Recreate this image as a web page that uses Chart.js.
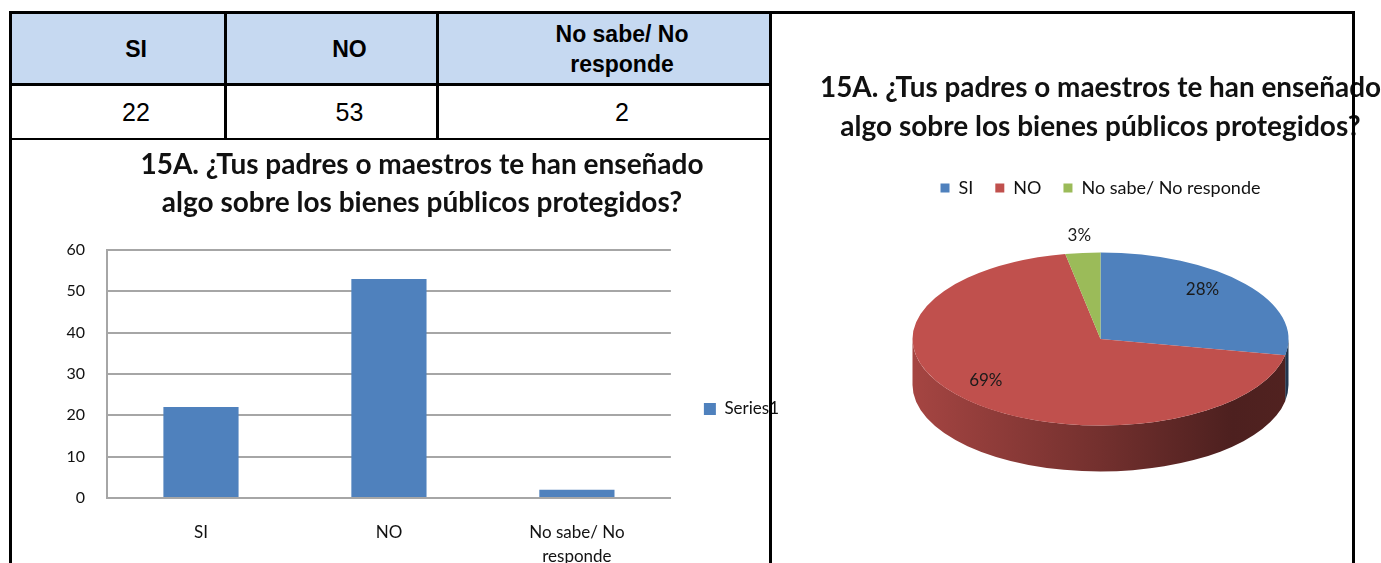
<!DOCTYPE html>
<html lang="es">
<head>
<meta charset="utf-8">
<title>15A. Bienes públicos protegidos</title>
<script src="https://cdn.jsdelivr.net/npm/chart.js@4.4.1/dist/chart.umd.min.js"></script>
<style>
    html, body {
        margin: 0;
        padding: 0;
        background: #fff;
    }
    body {
        position: relative;
        width: 1381px;
        height: 563px;
        overflow: hidden;
    }
    .linea {
        position: absolute;
        background: #000;
        z-index: 5;
    }
    .celda {
        position: absolute;
        box-sizing: border-box;
        padding-left: 36px;
        display: flex;
        align-items: center;
        justify-content: center;
        text-align: center;
        font-family: "Liberation Sans", Arial, sans-serif;
        color: #000;
    }
    .cabecera {
        background: #c6d9f1;
        font-weight: bold;
        font-size: 23px;
        line-height: 30px;
    }
    .valor {
        font-size: 25px;
    }
    canvas {
        position: absolute;
    }
</style>
</head>
<body>

<div id="tabla"></div>

<canvas id="graficoBarras" width="870" height="536" style="left:12px; top:141px;"></canvas>
<canvas id="graficoPastel" width="561" height="548" style="left:820px; top:15px;"></canvas>

<!-- bordes de la tabla del documento -->
<div class="linea" style="left:9px; top:11px; width:1346px; height:3px;"></div>
<div class="linea" style="left:9px; top:11px; width:3px; height:552px;"></div>
<div class="linea" style="left:224px; top:11px; width:3px; height:128px;"></div>
<div class="linea" style="left:436px; top:11px; width:3px; height:128px;"></div>
<div class="linea" style="left:769px; top:11px; width:3px; height:552px;"></div>
<div class="linea" style="left:1352px; top:11px; width:3px; height:552px;"></div>
<div class="linea" style="left:9px; top:83px; width:763px; height:3px;"></div>
<div class="linea" style="left:12px; top:138px; width:760px; height:2px;"></div>

<script>
// Datos de la pregunta 15A
const categorias = ['SI', 'NO', 'No sabe/ No responde'];
const etiquetasEjeX = ['SI', 'NO', ['No sabe/ No', 'responde']];
const respuestas = [22, 53, 2];
const porcentajes = [28, 69, 3];
const ticksY = [0, 10, 20, 30, 40, 50, 60];
const tituloPregunta = [
    '15A. ¿Tus padres o maestros te han enseñado',
    'algo sobre los bienes públicos protegidos?'
];

const AZUL = '#4f81bd';
const ROJO = '#c0504d';
const VERDE = '#9bbb59';
const FUENTE = 'Lato, "Open Sans", sans-serif';

// Tabla de frecuencias: cabecera y fila de valores
function construirTabla() {
    const tabla = document.getElementById('tabla');
    const columnas = [
        { left: 12, width: 212 },
        { left: 227, width: 209 },
        { left: 439, width: 330 }
    ];
    columnas.forEach((col, i) => {
        const cab = document.createElement('div');
        cab.className = 'celda cabecera';
        Object.assign(cab.style, {
            left: col.left + 'px', top: '14px',
            width: col.width + 'px', height: '69px'
        });
        cab.innerHTML = i === 2 ? 'No sabe/ No<br>responde' : categorias[i];
        tabla.appendChild(cab);

        const val = document.createElement('div');
        val.className = 'celda valor';
        Object.assign(val.style, {
            left: col.left + 'px', top: '86px',
            width: col.width + 'px', height: '52px'
        });
        val.textContent = respuestas[i];
        tabla.appendChild(val);
    });
}

// Grafico de barras con leyenda "Series1" a la derecha
function crearBarras() {
    const ctx = document.getElementById('graficoBarras').getContext('2d');
    return new Chart(ctx, {
        type: 'bar',
        data: {
            labels: etiquetasEjeX,
            datasets: [{
                label: 'Series1',
                data: respuestas,
                backgroundColor: AZUL,
                borderWidth: 0,
                barPercentage: 0.4,
                categoryPercentage: 1
            }]
        },
        options: {
            responsive: false,
            animation: false,
            events: [],
            layout: { padding: { left: 43, right: 93, top: 0, bottom: 0 } },
            plugins: {
                title: {
                    display: true,
                    text: tituloPregunta,
                    color: '#111',
                    font: { family: FUENTE, size: 28, weight: 'bold', lineHeight: 38 / 28 },
                    padding: { top: 5, bottom: 28 }
                },
                legend: {
                    position: 'right',
                    labels: {
                        boxWidth: 12,
                        boxHeight: 12,
                        padding: 33,
                        color: '#111',
                        font: { family: FUENTE, size: 17 }
                    }
                },
                tooltip: { enabled: false }
            },
            scales: {
                x: {
                    grid: { display: false, drawTicks: false },
                    border: { color: '#a6a6a6', width: 2 },
                    ticks: {
                        padding: 23,
                        maxRotation: 0,
                        color: '#111',
                        font: { family: FUENTE, size: 17, lineHeight: 24 / 17 }
                    },
                    afterFit: (scale) => { scale.height = 179; }
                },
                y: {
                    min: 0,
                    max: 60,
                    afterBuildTicks: (scale) => {
                        scale.ticks = ticksY.map(v => ({ value: v }));
                    },
                    grid: { color: '#a6a6a6', lineWidth: 2, drawTicks: false },
                    border: { color: '#a6a6a6', width: 2 },
                    ticks: {
                        padding: 22,
                        color: '#111',
                        font: { family: FUENTE, size: 16 }
                    },
                    afterFit: (scale) => { scale.width = 52; }
                }
            }
        }
    });
}

// Pastel con inclinacion y canto lateral, etiquetas de porcentaje
const INCLINACION = 0.46;
const PROFUNDIDAD = 46;
// las etiquetas interiores se corren un poco hacia arriba y a la izquierda, como en la perspectiva
const CORRIMIENTO_ETIQUETA = { x: -11, y: -6 };

function sombra(hex, f) {
    const n = parseInt(hex.slice(1), 16);
    const r = Math.round(((n >> 16) & 255) * f);
    const g = Math.round(((n >> 8) & 255) * f);
    const b = Math.round((n & 255) * f);
    return `rgb(${r},${g},${b})`;
}

const pastel3d = {
    id: 'pastel3d',
    beforeDatasetsDraw(chart) {
        const meta = chart.getDatasetMeta(0);
        if (!meta.data.length) return;
        const { x: cx, y: cy, outerRadius: rx } = meta.data[0].getProps(['x', 'y', 'outerRadius']);
        const ry = rx * INCLINACION;
        const ctx = chart.ctx;
        const colores = chart.data.datasets[0].backgroundColor;

        // canto frontal (mitad inferior de la elipse)
        meta.data.forEach((arc, i) => {
            const { startAngle, endAngle } = arc.getProps(['startAngle', 'endAngle']);
            [0, 2 * Math.PI].forEach(base => {
                const a0 = Math.max(startAngle, base);
                const a1 = Math.min(endAngle, base + Math.PI);
                if (a1 <= a0) return;
                const grad = ctx.createLinearGradient(cx - rx, 0, cx + rx, 0);
                grad.addColorStop(0, sombra(colores[i], 0.86));
                grad.addColorStop(0.5, sombra(colores[i], 0.6));
                grad.addColorStop(0.85, sombra(colores[i], 0.4));
                grad.addColorStop(1, sombra(colores[i], 0.42));
                ctx.save();
                ctx.beginPath();
                ctx.ellipse(cx, cy, rx, ry, 0, a0, a1);
                ctx.ellipse(cx, cy + PROFUNDIDAD, rx, ry, 0, a1, a0, true);
                ctx.closePath();
                ctx.fillStyle = grad;
                ctx.fill();
                ctx.restore();
            });
        });

        // la cara superior se aplana verticalmente alrededor del centro
        ctx.save();
        ctx.translate(cx, cy);
        ctx.scale(1, INCLINACION);
        ctx.translate(-cx, -cy);
    },
    afterDatasetsDraw(chart) {
        const ctx = chart.ctx;
        ctx.restore();

        const meta = chart.getDatasetMeta(0);
        const valores = chart.data.datasets[0].data;
        ctx.save();
        ctx.font = `17px ${FUENTE}`;
        ctx.fillStyle = '#1a1a1a';
        ctx.textAlign = 'center';
        ctx.textBaseline = 'middle';
        meta.data.forEach((arc, i) => {
            const { x: cx, y: cy, outerRadius: rx, startAngle, endAngle } =
                arc.getProps(['x', 'y', 'outerRadius', 'startAngle', 'endAngle']);
            const ry = rx * INCLINACION;
            const medio = (startAngle + endAngle) / 2;
            const fuera = valores[i] < 5;
            const f = fuera ? 1.2 : 0.78;
            const dx = fuera ? 0 : CORRIMIENTO_ETIQUETA.x;
            const dy = fuera ? 0 : CORRIMIENTO_ETIQUETA.y;
            ctx.fillText(valores[i] + '%',
                cx + Math.cos(medio) * rx * f + dx,
                cy + Math.sin(medio) * ry * f + dy);
        });
        ctx.restore();
    }
};

function crearPastel() {
    const ctx = document.getElementById('graficoPastel').getContext('2d');
    return new Chart(ctx, {
        type: 'pie',
        data: {
            labels: categorias,
            datasets: [{
                data: porcentajes,
                backgroundColor: [AZUL, ROJO, VERDE],
                borderWidth: 0
            }]
        },
        options: {
            responsive: false,
            animation: false,
            events: [],
            radius: 188,
            layout: { padding: { left: 0, right: 0, top: 0, bottom: 92 } },
            plugins: {
                title: {
                    display: true,
                    text: tituloPregunta,
                    color: '#111',
                    font: { family: FUENTE, size: 28, weight: 'bold', lineHeight: 39 / 28 },
                    padding: { top: 53, bottom: 11 }
                },
                legend: {
                    position: 'top',
                    labels: {
                        boxWidth: 9,
                        boxHeight: 9,
                        padding: 22,
                        color: '#111',
                        font: { family: FUENTE, size: 18 }
                    }
                },
                tooltip: { enabled: false }
            }
        },
        plugins: [pastel3d]
    });
}

document.addEventListener('DOMContentLoaded', () => {
    construirTabla();
    crearBarras();
    crearPastel();
});
</script>
</body>
</html>
